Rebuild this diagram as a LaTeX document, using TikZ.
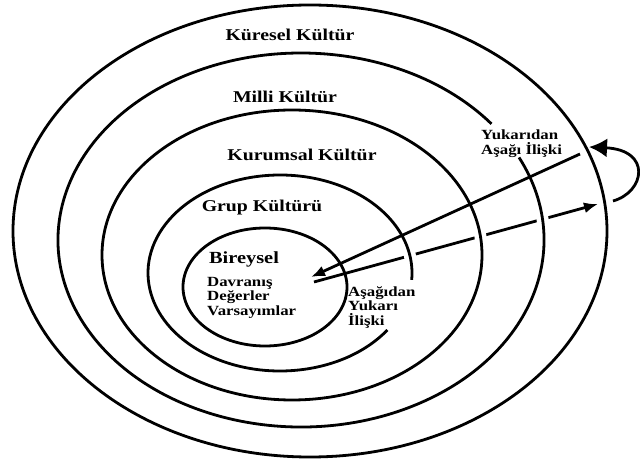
\documentclass[tikz,border=0pt]{standalone}
\usepackage{fontspec}
\setmainfont{Liberation Serif}[FakeStretch=1.2]
\usepackage{tikz}
\usetikzlibrary{arrows.meta, calc, positioning}
\tikzstyle{ring} = [line width=2.8pt, draw=black]
\tikzstyle{cutring} = [ring, preaction={draw=white, line width=12pt}]
\tikzstyle{ringtext} = [font=\bfseries\fontsize{16.5}{18}\selectfont, inner sep=0pt]
\tikzstyle{notetext} = [font=\bfseries\fontsize{14}{14.5}\selectfont, align=left, inner sep=0pt, anchor=north west]
\tikzstyle{arrow} = [line width=2.8pt, -{Latex[length=14pt, width=11pt]}]
\tikzstyle{bigarrow} = [line width=2.8pt, -{Latex[length=18pt, width=19pt]}]

\begin{document}
\begin{tikzpicture}[x=1pt, y=-1pt]
	\useasboundingbox (0,0) rectangle (640,462);
	\coordinate (KureselC) at (310,231);
	\coordinate (MilliC) at (301,240);
	\coordinate (KurumsalC) at (292,255);
	\coordinate (GrupC) at (280,273);
	\coordinate (BireyselC) at (265,287);
	\coordinate (Center) at (311,277);
	\coordinate (LowerStart) at (314,282);
	\coordinate (LowerEnd) at (598,204);
	\coordinate (UpperStart) at (580,154);
	\coordinate (LoopStart) at (613,201);
	\coordinate (LoopEnd) at (589,147);
	% bottom-up line goes under the rings
	\draw [arrow] (LowerStart) -- (LowerEnd);
	\draw [ring] (KureselC) ellipse [x radius=297, y radius=226];
	\draw [cutring] (MilliC) ++(-26.2:243 and 187) arc [start angle=-26.2, end angle=321.6, x radius=243, y radius=187];
	\draw [cutring] (KurumsalC) ellipse [x radius=190, y radius=145];
	\draw [cutring] (GrupC) ++(35.6:132 and 98) arc [start angle=35.6, end angle=364, x radius=132, y radius=98];
	\draw [ring] (BireyselC) ellipse [x radius=82, y radius=59];
	\draw [arrow] (UpperStart) -- (Center);
	\draw [bigarrow] (LoopStart) .. controls (645,192) and (652,150) .. (LoopEnd);
	\node (Kuresel) [ringtext] at (290,35) {Küresel Kültür};
	\node (Milli) [ringtext] at (285,97) {Milli Kültür};
	\node (Kurumsal) [ringtext] at (302,155) {Kurumsal Kültür};
	\node (Grup) [ringtext] at (262,208) {Grup Kültürü};
	\node (Bireysel) [ringtext, font=\bfseries\fontsize{17}{18}\selectfont] at (244,259) {Bireysel};
	\node (BireyselItems) [notetext] at (207,277) {Davranış\\Değerler\\Varsayımlar};
	\node (AsagidanYukari) [notetext] at (348,286) {Aşağıdan\\Yukarı\\İlişki};
	\node (YukaridanAsagi) [notetext] at (481,130) {Yukarıdan\\Aşağı İlişki};
\end{tikzpicture}
\end{document}
